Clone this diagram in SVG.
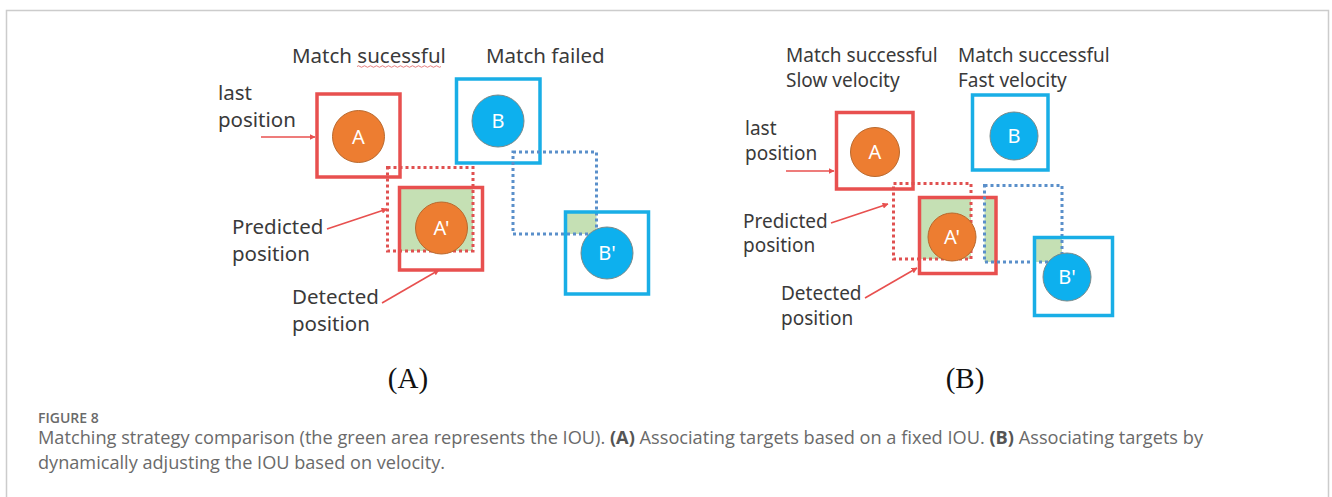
<svg xmlns="http://www.w3.org/2000/svg" width="1332" height="497" viewBox="0 0 1332 497">
<defs>
<style>
.lbl{font-family:"Noto Sans","Liberation Sans",sans-serif;fill:#3a3a3a}
.la{font-size:20.5px}
.lb{font-size:19px}
.cl{font-family:"Noto Sans","Liberation Sans",sans-serif;font-size:20px;fill:#ffffff;text-anchor:middle}
.rs{fill:none;stroke:#e8504f;stroke-width:3.5}
.bs{fill:none;stroke:#19aee6;stroke-width:3.5}
.rd{fill:none;stroke:#e05050;stroke-width:3;stroke-dasharray:3 3}
.bd{fill:none;stroke:#5a8fca;stroke-width:3;stroke-dasharray:3 3}
.gr{fill:#c5e0b4}
.co{fill:#ed7d31;stroke:#b9692e;stroke-width:1}
.cb{fill:#0db0ee;stroke:#7a8a8a;stroke-width:1}
.ar{fill:none;stroke:#e8504f;stroke-width:1.6}
.sub{font-family:"Liberation Serif",serif;font-size:29px;fill:#111;text-anchor:middle}
.cap{font-family:"Open Sans","Lato",sans-serif;fill:#6a6a6a}
</style>
<marker id="ah" viewBox="0 0 10 10" refX="9" refY="5" markerWidth="6" markerHeight="6" orient="auto" markerUnits="userSpaceOnUse">
<path d="M0,0 L10,5 L0,10 z" fill="#e8504f"/>
</marker>
</defs>
<rect x="0" y="0" width="1332" height="497" fill="#ffffff"/>
<path d="M6.5,497 V10.5 H1328.5 V497" fill="none" stroke="#cccccc" stroke-width="1.5"/>

<!-- Panel A -->
<g id="panelA-labels">
<text class="lbl la" x="292" y="63">Match sucessful</text>
<path d="M357,66.5 q1.5,-1.5 3,0 t3,0 t3,0 t3,0 t3,0 t3,0 t3,0 t3,0 t3,0 t3,0 t3,0 t3,0 t3,0 t3,0 t3,0 t3,0 t3,0 t3,0 t3,0 t3,0 t3,0 t3,0 t3,0 t3,0 t3,0 t3,0 t3,0 t3,0" fill="none" stroke="#e06060" stroke-width="0.8"/>
<text class="lbl la" x="486" y="63">Match failed</text>
<text class="lbl la" x="218" y="100">last</text>
<text class="lbl la" x="218" y="127">position</text>
<text class="lbl la" x="232" y="234">Predicted</text>
<text class="lbl la" x="232" y="261">position</text>
<text class="lbl la" x="292" y="304">Detected</text>
<text class="lbl la" x="292" y="331">position</text>
</g>
<g id="A-last">
<rect class="rs" x="317" y="94" width="83" height="83"/>
<circle class="co" cx="358.5" cy="136.5" r="26"/>
<text class="cl" x="358.5" y="143.5">A</text>
</g>
<g id="B-last">
<rect class="bs" x="456.5" y="79" width="83.5" height="84"/>
<circle class="cb" cx="498" cy="121" r="26"/>
<text class="cl" x="498" y="128">B</text>
</g>
<g id="A-detected">
<rect class="gr" x="400" y="188" width="73" height="63"/>
<rect class="rd" x="387.5" y="167.5" width="85.5" height="83.5"/>
<circle class="co" cx="441.5" cy="228" r="26"/>
<text class="cl" x="441.5" y="235">A'</text>
<rect class="rs" x="399.5" y="187.5" width="83" height="82.5"/>
</g>
<g id="B-detected">
<rect class="gr" x="566" y="213" width="30.5" height="21"/>
<rect class="bd" x="513" y="152" width="83.5" height="82"/>
<circle class="cb" cx="607" cy="253" r="26"/>
<text class="cl" x="607" y="260">B'</text>
<rect class="bs" x="565.5" y="212" width="83" height="82"/>
</g>

<!-- Panel B -->
<g id="panelB-labels">
<text class="lbl lb" x="786" y="62">Match successful</text>
<text class="lbl lb" x="786" y="87">Slow velocity</text>
<text class="lbl lb" x="958" y="62">Match successful</text>
<text class="lbl lb" x="958" y="87">Fast velocity</text>
<text class="lbl lb" x="745" y="135">last</text>
<text class="lbl lb" x="745" y="160">position</text>
<text class="lbl lb" x="743" y="228">Predicted</text>
<text class="lbl lb" x="743" y="252">position</text>
<text class="lbl lb" x="781" y="300">Detected</text>
<text class="lbl lb" x="781" y="325">position</text>
</g>
<g id="A2-last">
<rect class="rs" x="836.5" y="112.5" width="76.5" height="76.5"/>
<circle class="co" cx="875" cy="152" r="24.5"/>
<text class="cl" x="875" y="159">A</text>
</g>
<g id="B2-last">
<rect class="bs" x="972.5" y="95" width="75.5" height="75"/>
<circle class="cb" cx="1014" cy="136" r="24"/>
<text class="cl" x="1014" y="143">B</text>
</g>
<g id="A2-detected">
<rect class="gr" x="920" y="198" width="51" height="61"/>
<rect class="gr" x="984.5" y="198" width="11" height="64"/>
<rect class="rd" x="893.5" y="183.5" width="77.5" height="75.5"/>
<circle class="co" cx="952" cy="237" r="24"/>
<text class="cl" x="952" y="244">A'</text>
<rect class="rs" x="919.5" y="197.5" width="76.5" height="76"/>
</g>
<g id="B2-detected">
<rect class="gr" x="1035" y="238" width="27" height="24"/>
<rect class="bd" x="984.5" y="185.5" width="77.5" height="76.5"/>
<circle class="cb" cx="1067" cy="277" r="24"/>
<text class="cl" x="1067" y="284">B'</text>
<rect class="bs" x="1034.5" y="237.5" width="78" height="78"/>
</g>

<g id="connectors">
<line class="ar" x1="261" y1="137" x2="315" y2="137" marker-end="url(#ah)"/>
<line class="ar" x1="327" y1="229" x2="387" y2="209" marker-end="url(#ah)"/>
<line class="ar" x1="382" y1="303" x2="439" y2="270" marker-end="url(#ah)"/>
<line class="ar" x1="786" y1="171" x2="834" y2="171" marker-end="url(#ah)"/>
<line class="ar" x1="831" y1="223" x2="888" y2="204" marker-end="url(#ah)"/>
<line class="ar" x1="865" y1="298" x2="917" y2="268" marker-end="url(#ah)"/>
</g>

<text class="sub" x="408" y="388">(A)</text>
<text class="sub" x="965" y="388">(B)</text>

<g id="caption">
<text class="cap" x="38" y="423" font-size="14" font-weight="600">FIGURE 8</text>
<text class="cap" x="38" y="444" font-size="18" textLength="1165" lengthAdjust="spacingAndGlyphs">Matching strategy comparison (the green area represents the IOU). <tspan font-weight="bold" fill="#555">(A)</tspan> Associating targets based on a fixed IOU. <tspan font-weight="bold" fill="#555">(B)</tspan> Associating targets by</text>
<text class="cap" x="38" y="469" font-size="18" textLength="407" lengthAdjust="spacingAndGlyphs">dynamically adjusting the IOU based on velocity.</text>
</g>
</svg>
